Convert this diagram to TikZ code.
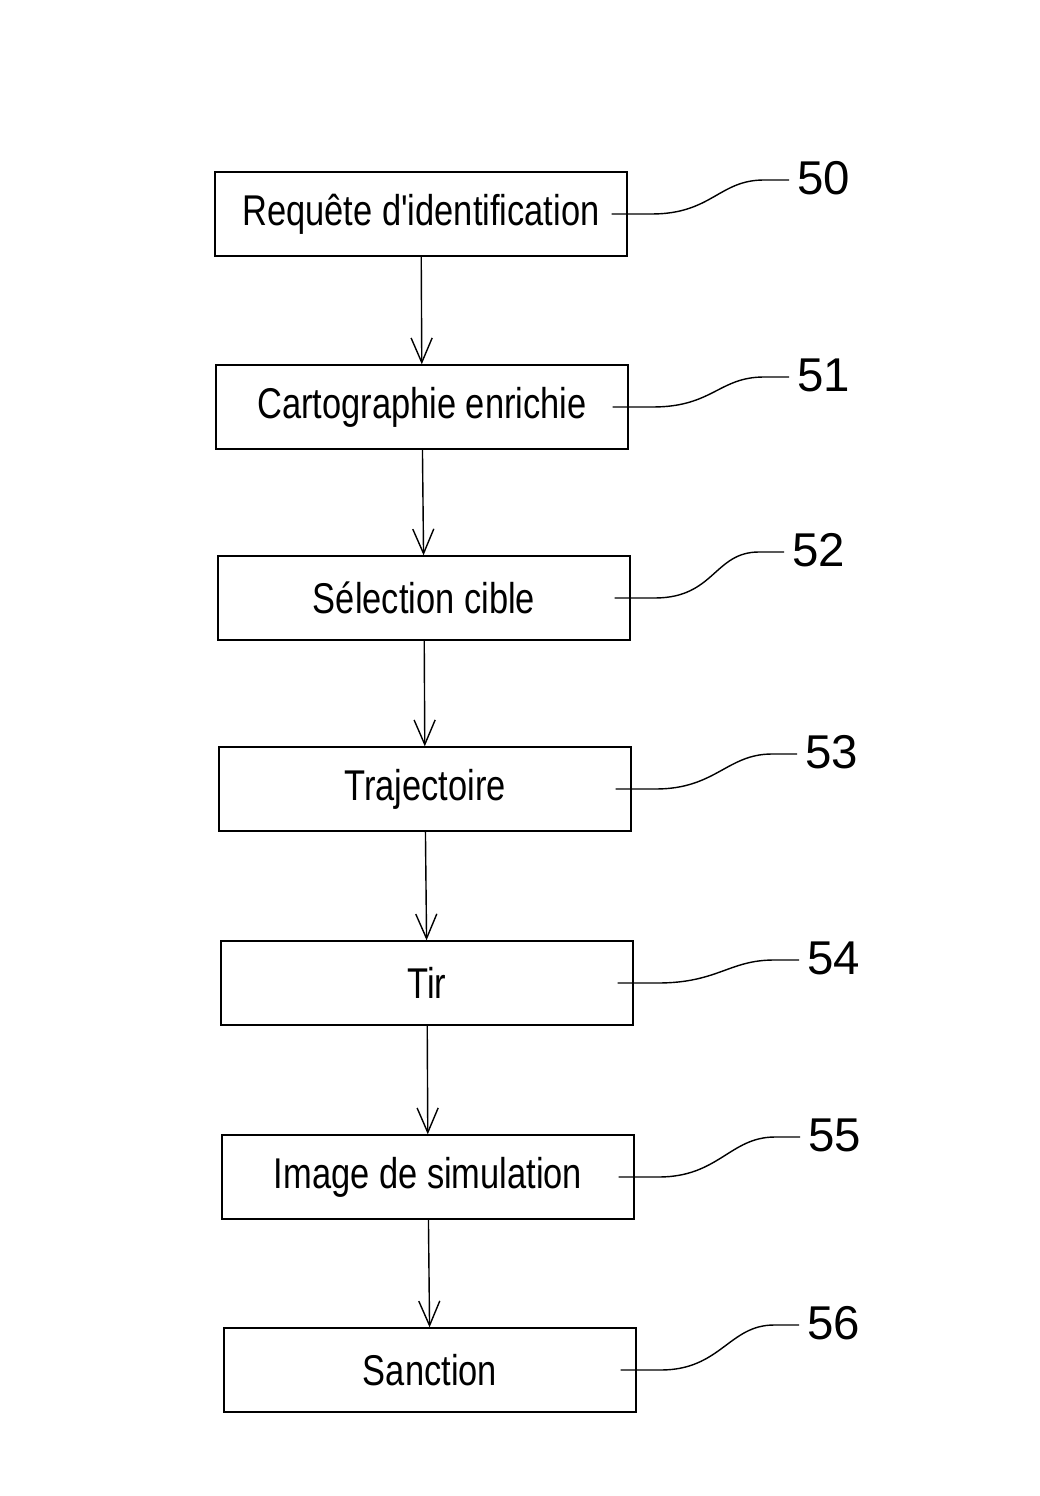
\documentclass[tikz,border=0pt]{standalone}
\usepackage{fontspec}
\setmainfont{Liberation Sans}
\newfontfamily\boxfont[FakeStretch=0.8]{Liberation Sans}
\usetikzlibrary{calc,arrows.meta}
\tikzset{
  stepbox/.style={draw, thick, rectangle, minimum width=8.24cm, minimum height=1.68cm, inner sep=0pt, font=\boxfont\fontsize{24.5}{28}\selectfont},
  refnum/.style={anchor=west, inner sep=0pt, font=\fontsize{27}{30}\selectfont},
  flow/.style={->, thick, >={Straight Barb[length=14pt, width=12pt]}},
  leader/.style={thick}
}
\begin{document}
\begin{tikzpicture}[x=0.02cm, y=-0.02cm]
  \useasboundingbox (0,0) rectangle (1040,1496);

  % Steps
  \node[stepbox] (b50) at (421,214) {Requête d'identification};
  \node[stepbox] (b51) at (422,407) {Cartographie enrichie};
  \node[stepbox] (b52) at (424,598) {Sélection cible};
  \node[stepbox] (b53) at (425,789) {Trajectoire};
  \node[stepbox] (b54) at (427,983) {Tir};
  \node[stepbox] (b55) at (428,1177) {Image de simulation};
  \node[stepbox] (b56) at (430,1370) {Sanction};

  % Reference numerals
  \node[refnum] (n50) at (797,178) {50};
  \node[refnum] (n51) at (797,375) {51};
  \node[refnum] (n52) at (792,550) {52};
  \node[refnum] (n53) at (805,752) {53};
  \node[refnum] (n54) at (807,958) {54};
  \node[refnum] (n55) at (808,1135) {55};
  \node[refnum] (n56) at (807,1323) {56};

  % Arrows
  \draw[flow] (b50) -- (b51);
  \draw[flow] (b51) -- (b52);
  \draw[flow] (b52) -- (b53);
  \draw[flow] (b53) -- (b54);
  \draw[flow] (b54) -- (b55);
  \draw[flow] (b55) -- (b56);

  % Leaders
  \foreach \i in {50,...,56} {
    \coordinate (s\i) at ($(b\i.east)+(-16,0)$);
    \coordinate (e\i) at ($(n\i.west)+(-8,2)$);
    \draw[leader] (s\i) -- ($(s\i)+(40,0)$) .. controls ($(s\i)+(100,0)$) and ($(e\i)+(-70,0)$) .. ($(e\i)+(-25,0)$) -- (e\i);
  }
\end{tikzpicture}
\end{document}
